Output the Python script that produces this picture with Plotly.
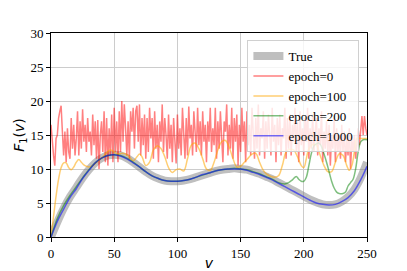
import numpy as np
import plotly.graph_objects as go

# ---- data ----
v_true = list(range(0, 251, 5))
f_true = [0.0, 2.2, 4.2, 5.9, 7.3, 8.7, 9.9, 10.9, 11.6, 12.0,
          12.1, 12.0, 11.6, 11.0, 10.3, 9.6, 9.0, 8.6, 8.3, 8.2,
          8.2, 8.3, 8.5, 8.8, 9.1, 9.4, 9.7, 9.9, 10.0, 10.1,
          10.0, 9.9, 9.6, 9.3, 8.9, 8.5, 8.0, 7.5, 7.0, 6.5,
          6.0, 5.5, 5.1, 4.8, 4.7, 4.8, 5.2, 5.9, 7.0, 8.7, 11.0]

v_e0 = list(range(0, 251))
f_e0 = [16.5, 14.0, 12.0, 10.5, 14.5, 15.0, 17.5, 18.5, 19.3, 15.5,
        12.0, 15.5, 11.0, 16.0, 12.5, 11.5, 17.5, 13.0, 16.5, 12.0,
        14.5, 18.5, 12.0, 17.0, 13.0, 18.8, 14.0, 16.5, 12.5, 17.5,
        14.0, 15.5, 12.0, 18.0, 13.5, 17.0, 11.5, 17.2, 10.0, 15.0,
        17.0, 12.5, 18.5, 11.0, 17.5, 10.5, 16.0, 12.0, 18.0, 11.0,
        19.0, 12.5, 17.0, 11.0, 18.5, 12.5, 20.0, 14.0, 19.5, 16.0,
        12.0, 17.0, 11.5, 18.5, 15.5, 19.0, 13.0, 18.5, 19.3, 14.0,
        19.5, 12.0, 17.5, 13.5, 18.0, 11.5, 17.5, 12.5, 19.0, 14.5,
        17.5, 11.5, 18.5, 13.0, 16.5, 11.0, 17.0, 14.0, 19.5, 12.5,
        17.5, 15.0, 11.5, 18.0, 13.0, 16.5, 11.0, 17.5, 14.5, 10.8,
        18.0, 13.0, 16.0, 12.0, 19.0, 15.5, 11.5, 17.5, 12.0, 19.2,
        14.5, 16.5, 12.0, 18.5, 15.0, 12.5, 19.0, 13.5, 17.0, 12.0,
        18.5, 14.0, 16.5, 11.0, 17.0, 14.0, 19.0, 12.5, 16.0, 13.5,
        19.0, 11.5, 17.0, 13.0, 18.5, 14.5, 11.0, 17.0, 15.5, 19.5,
        12.0, 16.5, 13.0, 19.0, 11.5, 17.5, 14.0, 18.0, 10.5, 16.5,
        12.5, 19.0, 14.0, 17.0, 11.0, 18.5, 13.5, 16.5, 12.0, 19.0,
        14.5, 11.5, 17.5, 13.0, 19.5, 12.0, 16.0, 14.5, 18.5, 11.5,
        17.0, 13.0, 18.0, 15.5, 12.0, 19.0, 14.0, 16.5, 11.0, 17.5,
        13.5, 18.0, 12.0, 16.0, 14.5, 19.0, 11.5, 17.5, 13.0, 18.0,
        12.0, 16.5, 14.0, 19.0, 12.5, 17.0, 11.0, 18.5, 13.5, 16.0,
        12.0, 17.5, 14.0, 19.0, 11.5, 16.0, 13.0, 18.0, 12.5, 15.5,
        17.5, 12.0, 16.0, 13.5, 18.5, 11.0, 15.5, 13.0, 17.0, 12.0,
        16.5, 10.5, 15.0, 13.0, 17.5, 11.0, 16.0, 12.5, 15.0, 11.5,
        16.5, 12.5, 15.5, 11.0, 14.5, 12.0, 16.0, 10.0, 14.5, 12.5,
        15.0, 11.5, 14.0, 16.0, 13.5, 15.5, 17.8, 15.0, 17.8, 16.0, 15.0]

v_e100 = [0, 2, 4, 6, 8, 10, 12, 14, 16, 18, 20, 22, 24, 26, 28, 30, 33, 36, 40, 44,
          47, 50, 53, 56, 59, 62, 65, 68, 70, 72, 75, 78, 81, 84, 87, 90, 93, 96, 99, 102,
          105, 108, 111, 114, 117, 120, 123, 126, 129, 132, 135, 138, 141, 144, 147, 150,
          153, 156, 159, 162, 165, 168, 171, 174, 177, 180, 183, 186, 189, 192, 195, 198,
          200, 202, 204, 207, 210, 213, 216, 219, 222, 225, 228, 231, 234, 236, 238, 240,
          242, 245, 250]
f_e100 = [0.0, 3.0, 6.0, 8.5, 10.2, 10.9, 10.9, 10.2, 9.9, 10.3, 11.0, 11.4, 11.0, 10.6,
          10.4, 10.3, 10.5, 11.0, 11.6, 12.4, 12.8, 12.5, 12.2, 12.3, 12.2, 11.8, 11.2,
          11.8, 12.2, 11.8, 10.5, 11.0, 12.8, 13.4, 13.0, 11.8, 10.2, 9.5, 9.9, 10.0, 9.7,
          11.5, 13.5, 13.8, 13.0, 11.5, 10.0, 9.8, 11.0, 12.8, 14.0, 14.2, 13.2, 11.5, 10.3,
          10.4, 11.0, 11.6, 12.2, 12.3, 11.0, 9.8, 9.2, 8.9, 8.8, 9.0, 10.5, 12.5, 12.9,
          12.8, 11.8, 10.5, 10.2, 11.5, 13.0, 13.6, 13.5, 12.0, 10.5, 9.6, 9.6, 11.0, 12.2,
          12.0, 10.5, 9.8, 10.5, 12.5, 14.5, 14.5, 14.5]

v_e200 = [0, 5, 10, 15, 20, 25, 30, 35, 40, 45, 50, 55, 60, 65, 70, 75, 80, 85, 90, 95,
          100, 105, 110, 115, 120, 125, 130, 135, 140, 145, 150, 155, 160, 165, 170, 175,
          180, 185, 188, 191, 194, 196, 198, 200, 202, 204, 206, 208, 210, 212, 214, 216,
          218, 220, 222, 224, 226, 228, 231, 233, 235, 237, 239, 241, 243, 245, 247, 250]
f_e200 = [0.0, 2.7, 4.6, 6.1, 7.4, 8.7, 9.9, 10.9, 11.6, 12.0, 12.1, 12.0, 11.6, 11.0,
          10.3, 9.6, 9.0, 8.6, 8.3, 8.2, 8.2, 8.3, 8.5, 8.8, 9.1, 9.4, 9.7, 9.9, 10.0, 10.1,
          10.0, 9.9, 9.6, 9.3, 8.9, 8.5, 8.0, 7.8, 8.0, 8.4, 8.9, 8.5, 8.2, 8.2, 8.8, 10.5,
          12.3, 13.4, 13.7, 13.8, 13.3, 12.2, 11.0, 9.6, 8.2, 7.2, 6.6, 6.4, 6.4, 6.6, 7.5,
          8.0, 8.5, 10.0, 12.5, 14.0, 14.3, 14.3]

v_e1000 = list(range(0, 251, 5))
f_e1000 = [0.0, 2.3, 4.1, 5.8, 7.1, 8.6, 9.8, 10.9, 11.6, 12.0,
           12.1, 11.9, 11.5, 10.9, 10.3, 9.6, 9.0, 8.6, 8.3, 8.2,
           8.2, 8.3, 8.5, 8.8, 9.2, 9.4, 9.7, 9.9, 10.0, 10.0,
           10.0, 9.8, 9.5, 9.2, 8.8, 8.4, 7.9, 7.4, 6.9, 6.4,
           5.9, 5.4, 5.0, 4.8, 4.7, 4.8, 5.2, 5.8, 6.8, 8.4, 10.4]

x_ticks = [0, 50, 100, 150, 200, 250]
y_ticks = [0, 5, 10, 15, 20, 25, 30]

SERIF = "Liberation Serif, Times New Roman, serif"

fig = go.Figure()
fig.add_trace(go.Scatter(x=v_true, y=f_true, mode="lines", name="True",
                         line=dict(color="rgba(128,128,128,0.5)", width=8, shape="spline")))
fig.add_trace(go.Scatter(x=v_e0, y=f_e0, mode="lines", name="epoch=0",
                         line=dict(color="rgba(255,0,0,0.5)", width=1.5)))
fig.add_trace(go.Scatter(x=v_e100, y=f_e100, mode="lines", name="epoch=100",
                         line=dict(color="rgba(255,165,0,0.55)", width=1.5, shape="spline")))
fig.add_trace(go.Scatter(x=v_e200, y=f_e200, mode="lines", name="epoch=200",
                         line=dict(color="rgba(0,128,0,0.5)", width=1.5, shape="spline")))
fig.add_trace(go.Scatter(x=v_e1000, y=f_e1000, mode="lines", name="epoch=1000",
                         line=dict(color="rgba(0,0,255,0.55)", width=1.5, shape="spline")))

axis_common = dict(showline=True, linecolor="black", linewidth=1, mirror=True,
                   ticks="outside", ticklen=4, tickcolor="black", automargin=False,
                   showgrid=True, gridcolor="#cccccc", gridwidth=1, zeroline=False,
                   tickfont=dict(family=SERIF, size=13, color="black"))

# The page body adds an 8px offset, so the figure is 399x263 to fill the 407x271 window.
fig.update_layout(
    width=399, height=263,
    margin=dict(l=43, r=40, t=25, b=34),
    paper_bgcolor="white", plot_bgcolor="white",
    showlegend=True,
    legend=dict(x=0.976, y=0.965, xanchor="right", yanchor="top",
                bgcolor="rgba(255,255,255,0.8)", bordercolor="#d0d0d0", borderwidth=1,
                font=dict(family=SERIF, size=13, color="black"),
                tracegroupgap=0, itemwidth=30),
    xaxis=dict(range=[0, 250], tickvals=x_ticks,
               title=dict(text="<i>v</i>", font=dict(family="DejaVu Sans", size=14, color="black"),
                          standoff=1),
               **axis_common),
    yaxis=dict(range=[0, 30], tickvals=y_ticks,
               title=dict(text="<i>F</i><sub>1</sub>(<i>v</i>)",
                          font=dict(family="DejaVu Sans", size=14, color="black"), standoff=2),
               **axis_common),
)

fig.write_html("out.html")
